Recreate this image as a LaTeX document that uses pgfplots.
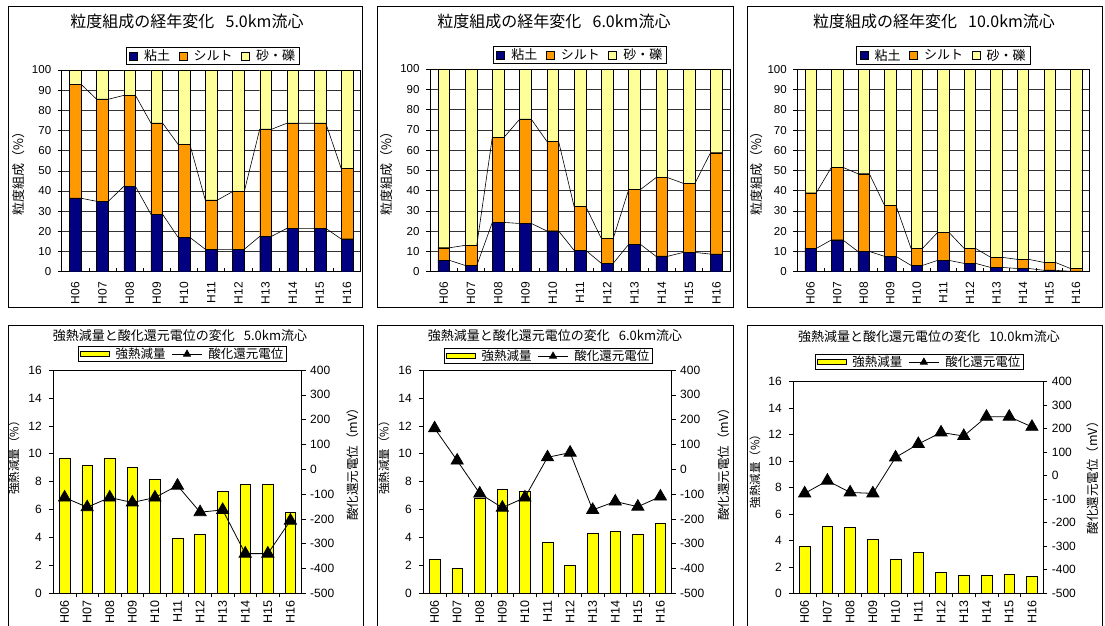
\documentclass[border=0pt]{standalone}
\usepackage{fontspec}
\setmainfont{Liberation Sans}
\newfontfamily\jp{Noto Sans CJK JP}
\usepackage{pgfplots}
\pgfplotsset{compat=1.18}
\definecolor{clay}{RGB}{0,0,128}
\definecolor{silt}{RGB}{255,153,0}
\definecolor{sand}{RGB}{255,255,153}
\definecolor{lig}{RGB}{255,255,0}
\pgfplotsset{
  base/.style={
    scale only axis, anchor=south west,
    xmin=-0.5, xmax=10.5,
    xtick={0,...,10},
    xticklabels={H06,H07,H08,H09,H10,H11,H12,H13,H14,H15,H16},
    minor xtick={0.5,1.5,...,9.5},
    major x tick style={draw=none},
    minor x tick style={black, line width=0.6pt},
    y tick style={black, line width=0.6pt},
    major tick length=4pt, minor tick length=4pt,
    ytick align=outside,
    axis line style={black, line width=0.8pt},
    xtick pos=bottom, ytick pos=left,
    /pgf/number format/assume math mode=true,
    /pgf/number format/1000 sep={},
  },
  topax/.style={base,
    ymin=0, ymax=100, ytick={0,10,...,100},
    ybar stacked, bar width=0.43,
    xtick align=inside,
    ymajorgrids, grid style={black!80, line width=0.6pt},
    yticklabel style={font=\fontsize{11.5}{12}\selectfont},
    yticklabel shift=3pt,
    xticklabel style={font=\fontsize{12}{12}\selectfont, rotate=90, anchor=east},
    xticklabel shift=7pt,
    ylabel={粒度組成（\%）},
    ylabel style={font=\jp\fontsize{13}{13}\selectfont, anchor=center},
    legend columns=3,
    legend image code/.code={\draw[#1, line width=0.5pt] (0pt,-4pt) rectangle (8pt,4pt);},
    legend style={anchor=south, yshift=5pt, draw=black, line width=0.6pt,
      font=\jp\fontsize{13}{13}\selectfont, inner xsep=3pt, inner ysep=1pt,
      nodes={inner sep=1.5pt},
      /tikz/every odd column/.append style={column sep=5pt},
      /tikz/every even column/.append style={column sep=7pt}},
  },
  serl/.style={scale only axis, anchor=south west, xmin=-0.5, xmax=10.5, ymin=0, ymax=100, hide axis},
  botl/.style={base,
    ymin=0, ymax=16, ytick={0,2,...,16},
    ybar, bar width=0.47,
    xtick align=outside,
    yticklabel style={font=\fontsize{12}{12}\selectfont},
    yticklabel shift=4pt,
    xticklabel style={font=\fontsize{12.5}{12}\selectfont, rotate=90, anchor=east},
    xticklabel shift=0pt,
    ylabel={強熱減量（\%）},
    ylabel style={font=\jp\fontsize{11.5}{12}\selectfont, anchor=center},
  },
  botr/.style={
    scale only axis, anchor=south west,
    xmin=-0.5, xmax=10.5, ymin=-500, ymax=400, ytick={-500,-400,...,400},
    axis x line=none, axis y line*=right, ytick align=outside,
    major tick length=4pt,
    y tick style={black, line width=0.6pt},
    axis line style={black, line width=0.8pt},
    /pgf/number format/assume math mode=true,
    yticklabel style={font=\fontsize{12}{12}\selectfont},
    yticklabel shift=1pt,
    ylabel={酸化還元電位（mV）},
    ylabel style={font=\jp\fontsize{12.5}{12}\selectfont, anchor=center},
    legend columns=2,
    legend style={anchor=south, draw=black, line width=0.6pt,
      font=\jp\fontsize{12.5}{12}\selectfont, inner xsep=2pt, inner ysep=0.5pt,
      nodes={inner sep=1pt},
      /tikz/every odd column/.append style={column sep=5pt},
      /tikz/every even column/.append style={column sep=5pt}},
  },
  barleg/.style={legend image code/.code={\draw[fill=lig,draw=black,line width=0.6pt] (0pt,-2.5pt) rectangle (29pt,2.5pt);}},
  orp/.style={black, line width=0.8pt, mark=triangle*, mark size=7pt, mark options={fill=black},
    legend image code/.code={\draw[mark repeat=2,mark phase=2,#1,mark size=4pt] plot coordinates {(0pt,0pt)(15pt,0pt)(30pt,0pt)};}},
  lb/.style={fill=lig, draw=black, line width=0.6pt},
}
\begin{document}
\begin{tikzpicture}
\useasboundingbox (0pt,0pt) rectangle (1105pt,625pt);
% frames
\draw[line width=0.8pt] (8pt,619pt) rectangle (362pt,318pt);
\draw[line width=0.8pt] (377pt,619pt) rectangle (733pt,318pt);
\draw[line width=0.8pt] (747pt,619pt) rectangle (1102pt,318pt);
\draw[line width=0.8pt] (8pt,-5pt) -- (8pt,300pt) -- (363pt,300pt) -- (363pt,-5pt);
\draw[line width=0.8pt] (377pt,-5pt) -- (377pt,300pt) -- (733pt,300pt) -- (733pt,-5pt);
\draw[line width=0.8pt] (747pt,-5pt) -- (747pt,300pt) -- (1102pt,300pt) -- (1102pt,-5pt);
% titles
\node[font=\jp\fontsize{16}{16}\selectfont] at (187pt,603.3pt) {粒度組成の経年変化\hspace{0.7em}5.0km流心};
\node[font=\jp\fontsize{16}{16}\selectfont] at (554pt,603.3pt) {粒度組成の経年変化\hspace{0.7em}6.0km流心};
\node[font=\jp\fontsize{16}{16}\selectfont] at (934pt,603.3pt) {粒度組成の経年変化\hspace{0.7em}10.0km流心};
\node[font=\jp\fontsize{13}{13}\selectfont] at (180pt,289pt) {強熱減量と酸化還元電位の変化\hspace{0.7em}5.0km流心};
\node[font=\jp\fontsize{13}{13}\selectfont] at (555pt,289pt) {強熱減量と酸化還元電位の変化\hspace{0.7em}6.0km流心};
\node[font=\jp\fontsize{13}{13}\selectfont] at (929pt,288pt) {強熱減量と酸化還元電位の変化\hspace{0.7em}10.0km流心};

% ===== Panel 1 =====
\begin{axis}[topax, at={(61.7pt,353.3pt)}, width=299pt, height=201.7pt,
  ylabel style={at={(axis description cs:-0.145,0.5)}},
  legend style={at={(0.506,1)}}]
\addplot[fill=clay, draw=black] coordinates {(0,36.4) (1,34.9) (2,42.3) (3,28.4) (4,17.0) (5,11.1) (6,11.1) (7,17.5) (8,21.5) (9,21.5) (10,16.2)};
\addplot[fill=silt, draw=black] coordinates {(0,56.5) (1,50.6) (2,45.1) (3,45.2) (4,46.1) (5,24.3) (6,28.6) (7,53.1) (8,52.1) (9,52.1) (10,34.9)};
\addplot[fill=sand, draw=black] coordinates {(0,7.1) (1,14.5) (2,12.6) (3,26.4) (4,36.9) (5,64.6) (6,60.3) (7,29.4) (8,26.4) (9,26.4) (10,48.9)};
\legend{粘土,シルト,砂・礫}
\end{axis}
\begin{axis}[serl, at={(61.7pt,353.3pt)}, width=299pt, height=201.7pt]
\addplot[black, line width=0.6pt] coordinates {(-0.215,36.4) (0.215,36.4) (0.785,34.9) (1.215,34.9) (1.785,42.3) (2.215,42.3) (2.785,28.4) (3.215,28.4) (3.785,17.0) (4.215,17.0) (4.785,11.1) (5.215,11.1) (5.785,11.1) (6.215,11.1) (6.785,17.5) (7.215,17.5) (7.785,21.5) (8.215,21.5) (8.785,21.5) (9.215,21.5) (9.785,16.2) (10.215,16.2)};
\addplot[black, line width=0.6pt] coordinates {(-0.215,92.9) (0.215,92.9) (0.785,85.5) (1.215,85.5) (1.785,87.4) (2.215,87.4) (2.785,73.6) (3.215,73.6) (3.785,63.1) (4.215,63.1) (4.785,35.4) (5.215,35.4) (5.785,39.7) (6.215,39.7) (6.785,70.6) (7.215,70.6) (7.785,73.6) (8.215,73.6) (8.785,73.6) (9.215,73.6) (9.785,51.1) (10.215,51.1)};
\end{axis}

% ===== Panel 2 =====
\begin{axis}[topax, at={(430pt,353.3pt)}, width=300pt, height=202.7pt,
  ylabel style={at={(axis description cs:-0.144,0.5)}},
  legend style={at={(0.5,1)}}]
\addplot[fill=clay, draw=black] coordinates {(0,5.6) (1,3.1) (2,24.3) (3,23.8) (4,20.1) (5,10.5) (6,4.1) (7,13.5) (8,7.6) (9,9.5) (10,8.7)};
\addplot[fill=silt, draw=black] coordinates {(0,6.2) (1,9.9) (2,42.0) (3,51.4) (4,44.2) (5,21.6) (6,12.2) (7,27.0) (8,38.8) (9,34.1) (10,50.0)};
\addplot[fill=sand, draw=black] coordinates {(0,88.2) (1,87.0) (2,33.7) (3,24.8) (4,35.7) (5,67.9) (6,83.7) (7,59.5) (8,53.6) (9,56.4) (10,41.3)};
\legend{粘土,シルト,砂・礫}
\end{axis}
\begin{axis}[serl, at={(430pt,353.3pt)}, width=300pt, height=202.7pt]
\addplot[black, line width=0.6pt] coordinates {(-0.215,5.6) (0.215,5.6) (0.785,3.1) (1.215,3.1) (1.785,24.3) (2.215,24.3) (2.785,23.8) (3.215,23.8) (3.785,20.1) (4.215,20.1) (4.785,10.5) (5.215,10.5) (5.785,4.1) (6.215,4.1) (6.785,13.5) (7.215,13.5) (7.785,7.6) (8.215,7.6) (8.785,9.5) (9.215,9.5) (9.785,8.7) (10.215,8.7)};
\addplot[black, line width=0.6pt] coordinates {(-0.215,11.8) (0.215,11.8) (0.785,13.0) (1.215,13.0) (1.785,66.3) (2.215,66.3) (2.785,75.2) (3.215,75.2) (3.785,64.3) (4.215,64.3) (4.785,32.1) (5.215,32.1) (5.785,16.3) (6.215,16.3) (6.785,40.5) (7.215,40.5) (7.785,46.4) (8.215,46.4) (8.785,43.6) (9.215,43.6) (9.785,58.7) (10.215,58.7)};
\end{axis}

% ===== Panel 3 =====
\begin{axis}[topax, at={(797.3pt,353.3pt)}, width=292pt, height=202.3pt,
  ylabel style={at={(axis description cs:-0.139,0.5)}},
  legend style={at={(0.5,1)}}]
\addplot[fill=clay, draw=black] coordinates {(0,11.5) (1,15.7) (2,10.0) (3,7.6) (4,3.1) (5,5.6) (6,4.1) (7,2.1) (8,1.6) (9,0.7) (10,0.2)};
\addplot[fill=silt, draw=black] coordinates {(0,27.5) (1,35.9) (2,38.4) (3,25.2) (4,8.4) (5,13.8) (6,7.4) (7,5.0) (8,4.5) (9,3.9) (10,1.4)};
\addplot[fill=sand, draw=black] coordinates {(0,61.0) (1,48.4) (2,51.6) (3,67.2) (4,88.5) (5,80.6) (6,88.5) (7,92.9) (8,93.9) (9,95.4) (10,98.4)};
\legend{粘土,シルト,砂・礫}
\end{axis}
\begin{axis}[serl, at={(797.3pt,353.3pt)}, width=292pt, height=202.3pt]
\addplot[black, line width=0.6pt] coordinates {(-0.215,11.5) (0.215,11.5) (0.785,15.7) (1.215,15.7) (1.785,10.0) (2.215,10.0) (2.785,7.6) (3.215,7.6) (3.785,3.1) (4.215,3.1) (4.785,5.6) (5.215,5.6) (5.785,4.1) (6.215,4.1) (6.785,2.1) (7.215,2.1) (7.785,1.6) (8.215,1.6) (8.785,0.7) (9.215,0.7) (9.785,0.2) (10.215,0.2)};
\addplot[black, line width=0.6pt] coordinates {(-0.215,39.0) (0.215,39.0) (0.785,51.6) (1.215,51.6) (1.785,48.4) (2.215,48.4) (2.785,32.8) (3.215,32.8) (3.785,11.5) (4.215,11.5) (4.785,19.4) (5.215,19.4) (5.785,11.5) (6.215,11.5) (6.785,7.1) (7.215,7.1) (7.785,6.1) (8.215,6.1) (8.785,4.6) (9.215,4.6) (9.785,1.6) (10.215,1.6)};
\end{axis}

% ===== Panel 4 =====
\begin{axis}[botl, at={(53.3pt,31.7pt)}, width=248.4pt, height=223.3pt,
  ylabel style={at={(axis description cs:-0.158,0.62)}}]
\addplot[lb] coordinates {(0,9.67) (1,9.16) (2,9.67) (3,9.02) (4,8.16) (5,3.91) (6,4.22) (7,7.30) (8,7.80) (9,7.80) (10,5.80)};
\end{axis}
\begin{axis}[botr, at={(53.3pt,31.7pt)}, width=248.4pt, height=223.3pt,
  ylabel style={at={(axis description cs:1.205,0.59)}},
  legend style={at={(0.519,1)}, yshift=8pt}]
\addlegendimage{barleg}
\addlegendentry{強熱減量}
\addplot[orp] coordinates {(0,-114) (1,-153) (2,-114) (3,-134) (4,-114) (5,-66) (6,-173) (7,-164) (8,-340) (9,-340) (10,-207)};
\addlegendentry{酸化還元電位}
\end{axis}

% ===== Panel 5 =====
\begin{axis}[botl, at={(423.3pt,31.7pt)}, width=248.4pt, height=223.3pt,
  ylabel style={at={(axis description cs:-0.158,0.62)}}]
\addplot[lb] coordinates {(0,2.43) (1,1.79) (2,6.80) (3,7.45) (4,7.28) (5,3.65) (6,2.00) (7,4.30) (8,4.44) (9,4.22) (10,5.01)};
\end{axis}
\begin{axis}[botr, at={(423.3pt,31.7pt)}, width=248.4pt, height=223.3pt,
  ylabel style={at={(axis description cs:1.208,0.59)}},
  legend style={at={(0.503,1)}, yshift=6pt}]
\addlegendimage{barleg}
\addlegendentry{強熱減量}
\addplot[orp] coordinates {(0,165) (1,35) (2,-98) (3,-155) (4,-114) (5,48) (6,67) (7,-164) (8,-130) (9,-151) (10,-110)};
\addlegendentry{酸化還元電位}
\end{axis}

% ===== Panel 6 =====
\begin{axis}[botl, at={(793.3pt,31.7pt)}, width=250pt, height=211.6pt,
  ylabel style={at={(axis description cs:-0.153,0.59)}}]
\addplot[lb] coordinates {(0,3.55) (1,5.04) (2,4.99) (3,4.08) (4,2.57) (5,3.07) (6,1.56) (7,1.36) (8,1.36) (9,1.44) (10,1.28)};
\end{axis}
\begin{axis}[botr, at={(793.3pt,31.7pt)}, width=250pt, height=211.6pt,
  ylabel style={at={(axis description cs:1.197,0.56)}},
  legend style={at={(0.503,1)}, yshift=11.7pt}]
\addlegendimage{barleg}
\addlegendentry{強熱減量}
\addplot[orp] coordinates {(0,-75) (1,-21) (2,-71) (3,-75) (4,78) (5,135) (6,184) (7,169) (8,251) (9,251) (10,208)};
\addlegendentry{酸化還元電位}
\end{axis}
\end{tikzpicture}
\end{document}
